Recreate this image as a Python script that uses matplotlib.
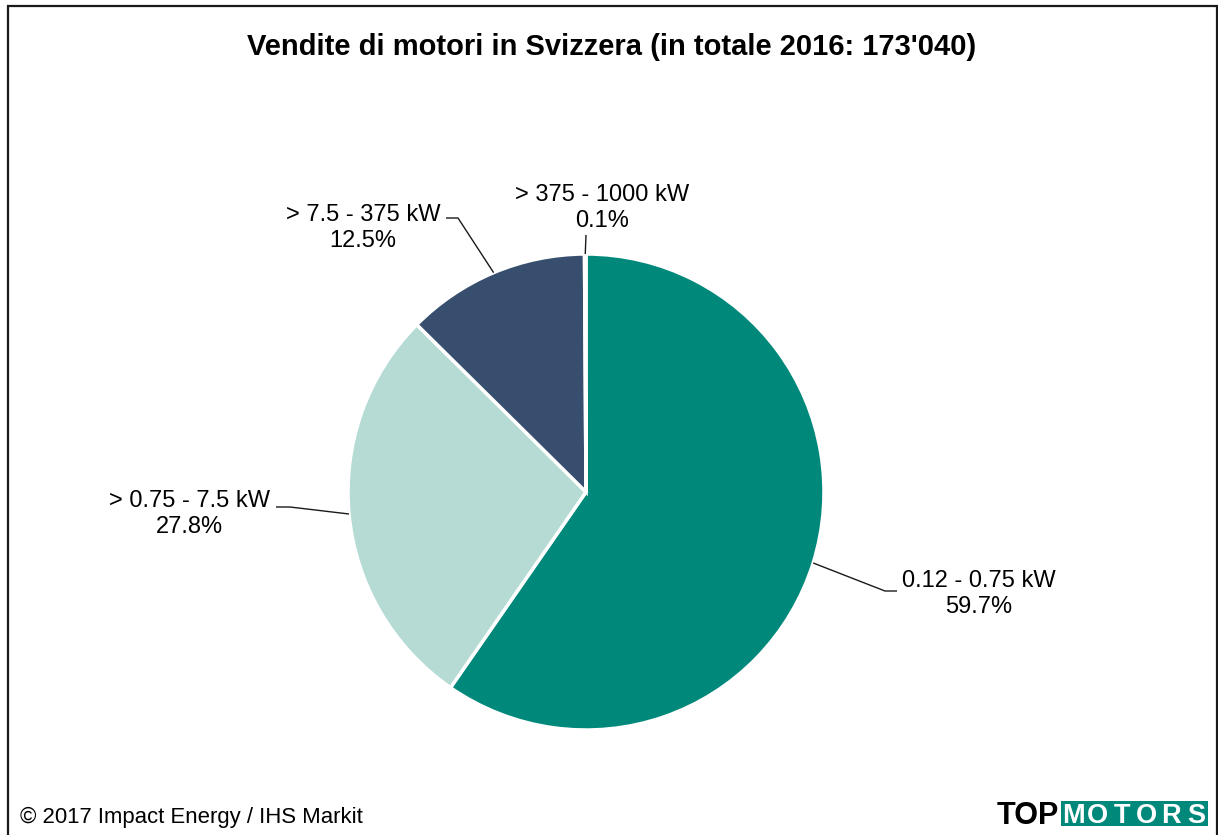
import matplotlib
matplotlib.use("Agg")
import matplotlib.pyplot as plt
from matplotlib.patches import Rectangle
import numpy as np

# ---- data ----
categories = ["0.12 - 0.75 kW", "> 0.75 - 7.5 kW", "> 7.5 - 375 kW", "> 375 - 1000 kW"]
shares = [59.7, 27.8, 12.5, 0.1]
colors = ["#00897B", "#B5DBD4", "#374E6E", "#6A8CA8"]
title = "Vendite di motori in Svizzera (in totale 2016: 173'040)"
source = "\u00a9 2017 Impact Energy / IHS Markit"

W, H = 1218, 835
CX, CY, R = 586, 492, 238  # pie centre / radius in pixels

plt.rcParams['font.family'] = ['Liberation Sans', 'DejaVu Sans']
fig = plt.figure(figsize=(W / 100, H / 100), dpi=100)
ax = fig.add_axes([0, 0, 1, 1])

def px(x, y):
    return ((x - CX) / R, (CY - y) / R)

ax.pie(shares, colors=colors, startangle=90, counterclock=False,
       wedgeprops=dict(edgecolor="white", linewidth=2.5))
ax.set_xlim(-CX / R, (W - CX) / R)
ax.set_ylim(-(H - CY) / R, CY / R)
ax.set_aspect('auto')
ax.axis('off')

# mid angles of wedges for leader anchors
total = sum(shares)
angles = []
start = 90.0
for s in shares:
    sweep = 360.0 * s / total
    angles.append(np.deg2rad(start - sweep / 2))
    start -= sweep

label_pos = [(979, 594), (189, 514), (363, 228), (602, 208)]
elbows = [[(885, 591), (897, 591)],
          [(290, 507), (276, 507)],
          [(458, 218), (446, 218)],
          [(586, 235)]]

fs = 17
for cat, s, a, lp, el in zip(categories, shares, angles, label_pos, elbows):
    pts = [(np.cos(a), np.sin(a))] + [px(*p) for p in el]
    xs, ys = zip(*pts)
    ax.plot(xs, ys, color="#1a1a1a", lw=1.0, solid_capstyle='butt')
    tx, ty = px(*lp)
    ax.text(tx, ty, f"{cat}\n{s:.1f}%", ha="center", va="center",
            fontsize=fs, linespacing=1.2, color="black")

# title
fig.text(612 / W, 1 - 47 / H, title, ha="center", va="center",
         fontsize=21, fontweight="bold")

# source
fig.text(20 / W, 1 - 817 / H, source, ha="left", va="center", fontsize=15.9)

# logo
fig.text(1059 / W, 1 - 824 / H, "TOP", ha="right", va="baseline",
         fontsize=22, fontweight="bold", color="black")
fig.patches.append(Rectangle((1061 / W, 1 - 826 / H), 147 / W, 25 / H,
                             transform=fig.transFigure, facecolor="#00897B",
                             edgecolor="none"))
logo_letters = "MOTORS"
step = 147 / len(logo_letters)
for i, ch in enumerate(logo_letters):
    fig.text((1061 + step * (i + 0.5)) / W, 1 - 823 / H, ch, ha="center",
             va="baseline", fontsize=19.5, fontweight="bold", color="white")

# frame
fig.patches.append(Rectangle((8 / W, -0.02), (1217 - 8) / W, 1.02 - 6 / H,
                             transform=fig.transFigure, facecolor="none",
                             edgecolor="#1a1a1a", linewidth=1.6))

fig.savefig("out.png", dpi=100)
